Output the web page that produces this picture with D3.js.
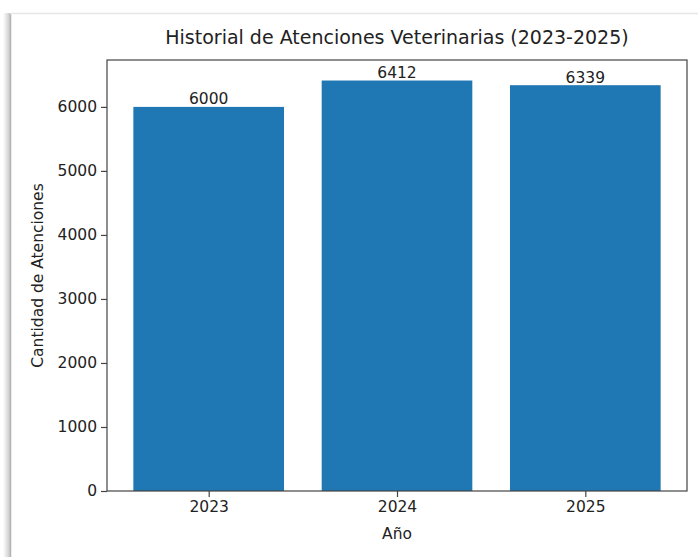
<!DOCTYPE html>
<html><head><meta charset="utf-8">
<script src="https://cdn.jsdelivr.net/npm/d3@7"></script>
<style>html,body{margin:0;padding:0;background:#fff;}svg{display:block;}</style>
</head><body>
<svg id="chart" width="698" height="557"></svg>
<script>
const categories = ["2023", "2024", "2025"];
const values = [6000, 6412, 6339];
const yTicks = [0, 1000, 2000, 3000, 4000, 5000, 6000];
const title = "Historial de Atenciones Veterinarias (2023-2025)";
const xLabel = "Año";
const yLabel = "Cantidad de Atenciones";

const svg = d3.select("#chart");
const font = "'DejaVu Sans', sans-serif";

// card shadow
const defs = svg.append("defs");
const g1 = defs.append("linearGradient").attr("id","lsh").attr("x1","0").attr("x2","1");
g1.append("stop").attr("offset","0").attr("stop-color","#fff");
g1.append("stop").attr("offset","1").attr("stop-color","#c8c8c8");
svg.append("rect").attr("x",3).attr("y",13).attr("width",7).attr("height",557).attr("fill","url(#lsh)");
svg.append("line").attr("x1",10.5).attr("x2",10.5).attr("y1",13).attr("y2",557).attr("stroke","#b4b4b4").attr("stroke-width",1.5);
svg.append("line").attr("x1",10).attr("x2",698).attr("y1",13.5).attr("y2",13.5).attr("stroke","#e6e6e6").attr("stroke-width",1.5);

const L = 107, R = 687, T = 60, B = 491;
const n = categories.length;
const x = d3.scaleLinear().domain([-0.4 - 0.05*(n-0.2), n-1+0.4 + 0.05*(n-0.2)]).range([L, R]);
const y = d3.scaleLinear().domain([0, d3.max(values)*1.05]).range([B, T]);

const bw = x(0.4) - x(-0.4);
svg.append("g").selectAll("rect").data(values).join("rect")
  .attr("x", (d,i) => x(i) - bw/2)
  .attr("y", d => y(d))
  .attr("width", bw)
  .attr("height", d => B - y(d))
  .attr("fill", "#1f77b4");

svg.append("g").selectAll("text").data(values).join("text")
  .attr("x", (d,i) => x(i))
  .attr("y", d => y(d) - 2.5)
  .attr("text-anchor","middle")
  .attr("font-family", font).attr("font-size", 15.5).attr("fill","#222")
  .text(d => d);

// axes frame
svg.append("rect").attr("x",L).attr("y",T).attr("width",R-L).attr("height",B-T)
  .attr("fill","none").attr("stroke","#444").attr("stroke-width",1.2);

const yAxis = d3.axisLeft(y).tickValues(yTicks).tickSize(6).tickPadding(4).tickFormat(d3.format("d"));
const ya = svg.append("g").attr("transform",`translate(${L},0)`).call(yAxis);
const xAxis = d3.axisBottom(x).tickValues(d3.range(n)).tickSize(6).tickPadding(4).tickFormat(i => categories[i]);
const xa = svg.append("g").attr("transform",`translate(0,${B})`).call(xAxis);
[ya, xa].forEach(a => {
  a.select(".domain").remove();
  a.selectAll(".tick line").attr("stroke","#444").attr("stroke-width",1.2);
  a.selectAll(".tick text").attr("font-family",font).attr("font-size",15.5).attr("fill","#222");
});

svg.append("text").attr("x",(L+R)/2).attr("y",44).attr("text-anchor","middle")
  .attr("font-family",font).attr("font-size",19).attr("fill","#222").text(title);
svg.append("text").attr("x",(L+R)/2).attr("y",539).attr("text-anchor","middle")
  .attr("font-family",font).attr("font-size",15.5).attr("fill","#222").text(xLabel);
svg.append("text").attr("transform",`translate(43,${(T+B)/2}) rotate(-90)`).attr("text-anchor","middle")
  .attr("font-family",font).attr("font-size",15.5).attr("fill","#222").text(yLabel);
</script>
</body></html>
